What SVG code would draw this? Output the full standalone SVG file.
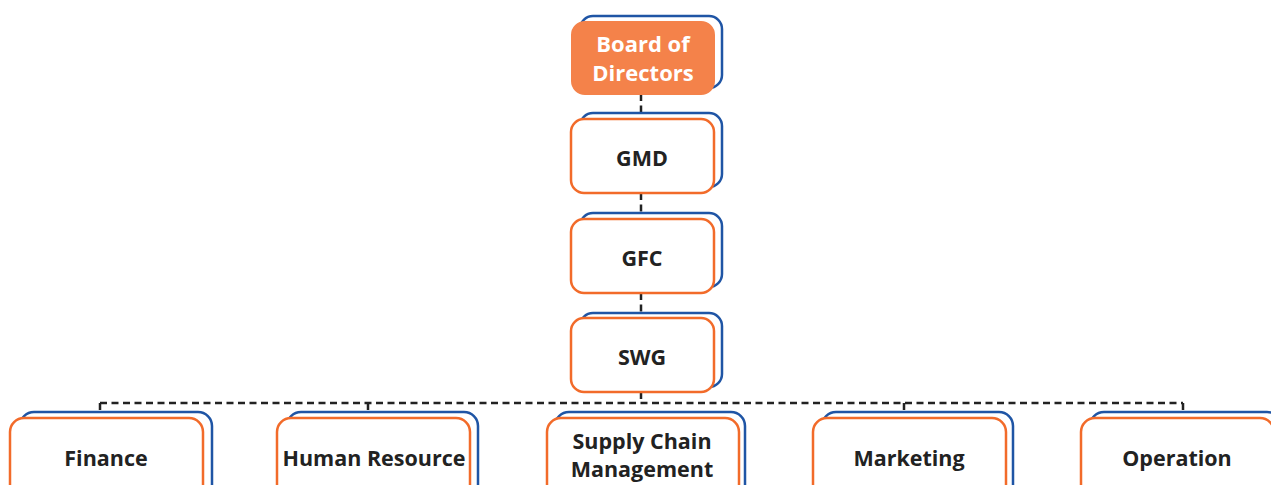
<svg xmlns="http://www.w3.org/2000/svg" width="1271" height="485" viewBox="0 0 1271 485">
<style>
.back{fill:#fff;stroke:#1F55A5;stroke-width:2.5}
.front{fill:#fff;stroke:#F26B2A;stroke-width:2.5}
.top{fill:#F4824A;stroke:#F4824A;stroke-width:2}
.lbl{font-family:"Open Sans","DejaVu Sans",sans-serif;font-weight:bold;font-size:21.5px;fill:#222;text-anchor:middle}
.wlbl{font-family:"Open Sans","DejaVu Sans",sans-serif;font-weight:bold;font-size:22px;fill:#fff;text-anchor:middle}
.con{fill:none;stroke:#222;stroke-width:2.5;stroke-dasharray:7 4.5}
</style>
<g id="connectors">
<path class="con" d="M641 94V119M641 193V219M641 293V319M641 392V403M100 403H1183M100 403V414M368 403V414M904 403V414M1183 403V414"/>
</g>
<g id="board">
<rect class="back" x="580" y="16" width="142" height="72" rx="13"/>
<rect class="top" x="572" y="22" width="142" height="72" rx="13"/>
<text class="wlbl" x="643" y="52">Board of</text>
<text class="wlbl" x="643" y="81">Directors</text>
</g>
<g id="gmd">
<rect class="back" x="580" y="113" width="142" height="74" rx="13"/>
<rect class="front" x="571" y="119" width="143" height="74" rx="13"/>
<text class="lbl" x="642" y="166">GMD</text>
</g>
<g id="gfc">
<rect class="back" x="580" y="213" width="142" height="74" rx="13"/>
<rect class="front" x="571" y="219" width="143" height="74" rx="13"/>
<text class="lbl" x="642" y="266">GFC</text>
</g>
<g id="swg">
<rect class="back" x="580" y="313" width="142" height="74" rx="13"/>
<rect class="front" x="571" y="318" width="143" height="74" rx="13"/>
<text class="lbl" x="642" y="365">SWG</text>
</g>
<g id="finance">
<rect class="back" x="20" y="412" width="192" height="90" rx="14"/>
<rect class="front" x="10" y="418" width="193" height="90" rx="14"/>
<text class="lbl" x="106" y="466">Finance</text>
</g>
<g id="hr">
<rect class="back" x="287" y="412" width="191" height="90" rx="14"/>
<rect class="front" x="277" y="418" width="193" height="90" rx="14"/>
<text class="lbl" x="374" y="466">Human Resource</text>
</g>
<g id="scm">
<rect class="back" x="555" y="412" width="190" height="90" rx="14"/>
<rect class="front" x="547" y="418" width="192" height="90" rx="14"/>
<text class="lbl" x="642" y="449">Supply Chain</text>
<text class="lbl" x="642" y="477">Management</text>
</g>
<g id="marketing">
<rect class="back" x="822" y="412" width="191" height="90" rx="14"/>
<rect class="front" x="813" y="418" width="193" height="90" rx="14"/>
<text class="lbl" x="909" y="466">Marketing</text>
</g>
<g id="operation">
<rect class="back" x="1090" y="412" width="191" height="90" rx="14"/>
<rect class="front" x="1081" y="418" width="193" height="90" rx="14"/>
<text class="lbl" x="1177" y="466">Operation</text>
</g>
</svg>
